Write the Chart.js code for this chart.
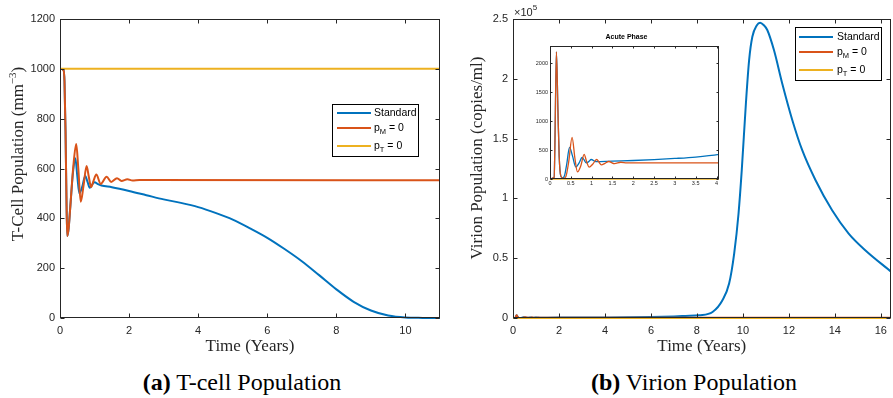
<!DOCTYPE html>
<html><head><meta charset="utf-8">
<script src="https://cdn.jsdelivr.net/npm/chart.js@4"></script>
<style>
html,body{margin:0;padding:0;background:#fff;width:893px;height:398px;overflow:hidden;position:relative}
canvas{position:absolute}
.cap{position:absolute;top:370px;font-family:"Liberation Serif",serif;font-size:24px;line-height:24px;color:#000;white-space:nowrap;text-align:center;width:300px}
</style></head><body>
<canvas id="cT" width="450" height="360" style="left:0;top:0"></canvas>
<canvas id="cV" width="443" height="360" style="left:450px;top:0"></canvas>
<canvas id="cI" width="196" height="165" style="left:526px;top:27px;background:#fff"></canvas>
<div class="cap" style="left:92px"><b>(a)</b> T-cell Population</div>
<div class="cap" style="left:544px"><b>(b)</b> Virion Population</div>
<script>
// ---------- data ----------
const seriesNames = ['Standard', 'p_M = 0', 'p_T = 0'];
const seriesColors = ['#0072BD', '#D95319', '#EDB120'];

// T-cell population (mm^-3) vs time (years)
const tcellTimeStd = [0,0.1,0.13,0.16,0.19,0.21,0.25,0.3,0.38,0.445,0.5,0.56,0.64,0.73,0.8,0.86,0.93,1.0,1.1,1.2,1.5,2,2.5,3,3.5,4,4.5,5,5.5,6,6.5,7,7.5,8,8.5,9,9.5,10,10.5,11];
const tcellStd     = [1000,995,950,750,450,329,360,450,590,641,570,500,525,570,545,523,535,545,537,532,525,510,493,476,462,445,422,395,360,322,277,228,172,115,65,30,10,2,0.5,0];
const tcellTimePM  = [0,0.1,0.13,0.16,0.19,0.21,0.25,0.3,0.38,0.47,0.53,0.6,0.68,0.77,0.83,0.9,0.97,1.05,1.18,1.35,1.48,1.65,1.78,1.95,2.1,2.3,11];
const tcellPM      = [1000,995,950,750,450,329,360,450,600,698,600,467,530,610,570,525,550,576,538,567,546,561,550,557,552,554,553];
const tcellTimePT  = [0,11];
const tcellPT      = [1000,1000];

// Virion population (copies/ml) vs time (years)
const virTimeStd = [0,0.1,0.12,0.154,0.19,0.22,0.26,0.3,0.35,0.4,0.47,0.54,0.62,0.7,0.77,0.82,0.87,0.93,0.99,1.1,1.5,2,2.5,3,3.5,4.06,5,6,7,7.5,8.1,8.68,9.11,9.4,9.62,9.81,9.95,10.13,10.27,10.41,10.6,10.75,10.9,11.06,11.35,11.71,12.15,12.58,13.16,13.88,14.6,15.32,16.46];
const virStd     = [0,30,700,2200,1200,400,50,20,60,250,547,400,209,280,372,330,279,300,337,300,310,320,335,355,380,425,550,800,1300,1700,2260,5000,14800,28800,53900,87400,123600,179400,215600,235100,244500,246900,245000,240800,224000,196100,165400,140300,115200,90100,70600,56700,38500];
const virTimePM  = [0,0.1,0.12,0.154,0.19,0.22,0.26,0.32,0.38,0.45,0.53,0.6,0.66,0.74,0.82,0.88,0.94,1.03,1.12,1.18,1.23,1.32,1.41,1.55,1.7,1.85,2,4.06,16.42];
const virPM      = [0,30,700,2200,1200,400,50,10,40,300,721,350,122,230,425,300,204,260,337,290,245,270,303,265,290,278,280,280,280];
const virTimePT  = [0,16.42];
const virPT      = [0,0];

// tick labels
const tcellXTicks = [0,2,4,6,8,10];
const tcellYTicks = [0,200,400,600,800,1000,1200];
const virXTicks   = [0,2,4,6,8,10,12,14,16];
const virYTicks   = [0,50000,100000,150000,200000,250000];
const insetXTicks = [0,0.5,1,1.5,2,2.5,3,3.5,4];
const insetYTicks = [0,500,1000,1500,2000];

// ---------- plugins ----------
const pts = (xs, ys) => xs.map((x, i) => ({x, y: ys[i]}));
const AX = '#262626';
const SANS = '"Liberation Sans", Arial, sans-serif';
const SERIF = '"Liberation Serif", "Times New Roman", serif';

const boxPlugin = {
  id: 'matBox',
  afterDatasetsDraw(chart, args, o) {
    const {ctx, chartArea: a, scales} = chart;
    ctx.save();
    ctx.strokeStyle = AX; ctx.lineWidth = 1;
    const L = Math.round(a.left) + 0.5, R = Math.round(a.right) - 0.5, T = Math.round(a.top) + 0.5, B = Math.round(a.bottom) - 0.5;
    ctx.strokeRect(L, T, R - L, B - T);
    const tl = o.tickLen;
    ctx.beginPath();
    scales.x.ticks.forEach(t => {
      const px = Math.round(scales.x.getPixelForValue(t.value)) + 0.5;
      ctx.moveTo(px, B); ctx.lineTo(px, B - tl);
      ctx.moveTo(px, T); ctx.lineTo(px, T + tl);
    });
    scales.y.ticks.forEach(t => {
      const py = Math.round(scales.y.getPixelForValue(t.value)) + 0.5;
      ctx.moveTo(L, py); ctx.lineTo(L + tl, py);
      ctx.moveTo(R, py); ctx.lineTo(R - tl, py);
    });
    ctx.stroke();
    ctx.restore();
  }
};

const legendPlugin = {
  id: 'matLegend',
  afterDraw(chart, args, o) {
    const ctx = chart.ctx;
    ctx.save();
    ctx.fillStyle = '#fff'; ctx.fillRect(o.x, o.y, o.w, o.h);
    ctx.strokeStyle = '#000'; ctx.lineWidth = 1;
    ctx.strokeRect(o.x + 0.5, o.y + 0.5, o.w - 1, o.h - 1);
    chart.data.datasets.forEach((ds, i) => {
      const y = o.y + o.rows[i];
      ctx.strokeStyle = ds.borderColor; ctx.lineWidth = 2;
      ctx.beginPath(); ctx.moveTo(o.x + o.l0, y); ctx.lineTo(o.x + o.l1, y); ctx.stroke();
      let x = o.x + o.tx;
      ctx.fillStyle = '#000'; ctx.textBaseline = 'middle'; ctx.textAlign = 'left';
      ds.label.split(/_(.)/).forEach((p, k) => {
        const sub = k % 2 === 1;
        ctx.font = sub ? o.subFont : o.font;
        ctx.fillText(p, x, sub ? y + 3.5 : y);
        x += ctx.measureText(p).width;
      });
    });
    ctx.restore();
  }
};

const textPlugin = {
  id: 'matText',
  afterDraw(chart, args, o) {
    const ctx = chart.ctx, a = chart.chartArea;
    o.items.forEach(it => {
      ctx.save();
      ctx.fillStyle = it.color || AX; ctx.textBaseline = 'middle';
      ctx.font = it.font;
      ctx.textAlign = it.align || 'left';
      let x, y;
      if (it.abs) { x = it.x; y = it.y; }
      else { x = (it.center ? (a.left + a.right) / 2 : a.left) + it.dx; y = a.top + it.dy; }
      ctx.translate(x, y);
      if (it.rot) ctx.rotate(it.rot);
      if (it.parts) {
        let total = 0;
        it.parts.forEach(p => { ctx.font = p[1] ? it.supFont : it.font; total += ctx.measureText(p[0]).width; });
        let cx = it.align === 'center' ? -total / 2 : 0;
        ctx.textAlign = 'left';
        it.parts.forEach(p => {
          ctx.font = p[1] ? it.supFont : it.font;
          ctx.fillText(p[0], cx, p[1] ? -it.supRise : 0);
          cx += ctx.measureText(p[0]).width;
        });
      } else {
        ctx.fillText(it.text, 0, 0);
      }
      ctx.restore();
    });
  }
};

function makeChart(id, c) {
  return new Chart(document.getElementById(id), {
    type: 'line',
    data: {
      datasets: c.series.map((s, i) => ({
        label: seriesNames[i], data: pts(s[0], s[1]),
        borderColor: seriesColors[i], backgroundColor: seriesColors[i],
        borderWidth: c.lw, pointRadius: 0, cubicInterpolationMode: 'monotone',
        fill: false, order: 3 - i, clip: c.clip
      }))
    },
    options: {
      responsive: false, animation: false, devicePixelRatio: 1,
      layout: {padding: c.pad},
      plugins: {
        legend: {display: false}, tooltip: {enabled: false}, title: {display: false},
        matBox: {tickLen: c.tickLen},
        matLegend: c.legend || false,
        matText: c.text || false
      },
      scales: {
        x: {
          type: 'linear', min: 0, max: c.xMax,
          grid: {display: false, drawTicks: false}, border: {display: false},
          afterBuildTicks: s => { s.ticks = c.xTicks.map(v => ({value: v})); },
          afterFit: s => { s.height = c.xH; },
          ticks: {font: {family: SANS, size: c.tickFont}, color: AX, padding: c.xTickPad, maxRotation: 0, autoSkip: false, callback: v => String(v)},
          title: {display: !!c.xTitle, text: c.xTitle, font: {family: SERIF, size: 17}, color: AX, padding: {top: 0, bottom: 3}}
        },
        y: {
          type: 'linear', min: 0, max: c.yMax,
          grid: {display: false, drawTicks: false}, border: {display: false},
          afterBuildTicks: s => { s.ticks = c.yTicks.map(v => ({value: v})); },
          afterFit: s => { s.width = c.yW; },
          ticks: {font: {family: SANS, size: c.tickFont}, color: AX, padding: c.yTickPad, autoSkip: false, callback: c.yFmt || (v => String(v))},
          title: {display: false}
        }
      }
    },
    plugins: [boxPlugin, legendPlugin, textPlugin]
  });
}

const legendFont = {font: '10.5px ' + SANS, subFont: '7.5px ' + SANS};

makeChart('cT', {
  series: [[tcellTimeStd, tcellStd], [tcellTimePM, tcellPM], [tcellTimePT, tcellPT]],
  lw: 2, tickLen: 4, tickFont: 11, clip: {left: 0, top: 0, right: 0, bottom: 2},
  pad: {top: 19, right: 10, left: 0, bottom: 0},
  xMax: 11, yMax: 1200, xTicks: tcellXTicks, yTicks: tcellYTicks,
  xH: 42, yW: 60, xTickPad: 6, yTickPad: 5,
  xTitle: 'Time (Years)',
  legend: Object.assign({x: 332, y: 104, w: 87, h: 53, rows: [9, 24, 42], l0: 5, l1: 39, tx: 42}, legendFont),
  text: {items: [{abs: true, x: 19, y: 154, rot: -Math.PI / 2, align: 'center', font: '17px ' + SERIF, supFont: '11px ' + SERIF, supRise: 6,
                  parts: [['T-Cell Population (mm', false], ['\u22123', true], [')', false]]}]}
});

makeChart('cV', {
  series: [[virTimeStd, virStd], [virTimePM, virPM], [virTimePT, virPT]],
  lw: 2, tickLen: 4, tickFont: 11, clip: {left: 0, top: 0, right: 0, bottom: 2},
  pad: {top: 19, right: 1, left: 0, bottom: 0},
  xMax: 16.42, yMax: 250000, xTicks: virXTicks, yTicks: virYTicks,
  xH: 42, yW: 63, xTickPad: 6, yTickPad: 5,
  yFmt: v => String(v / 100000),
  xTitle: 'Time (Years)',
  legend: Object.assign({x: 345, y: 27, w: 87, h: 54, rows: [10, 25, 43], l0: 4, l1: 38, tx: 42}, legendFont),
  text: {items: [
    {parts: [['\u00D710', false], ['5', true]], font: '11px ' + SANS, supFont: '8px ' + SANS, supRise: 5, dx: 1, dy: -6},
    {abs: true, x: 28, y: 158, rot: -Math.PI / 2, align: 'center', font: '17px ' + SERIF, text: 'Virion Population (copies/ml)'}
  ]}
});

makeChart('cI', {
  series: [[virTimeStd, virStd], [virTimePM, virPM], [virTimePT, virPT]],
  lw: 1.3, tickLen: 2, tickFont: 5.5, clip: {left: 0, top: 0, right: 0, bottom: 1},
  pad: {top: 19, right: 3, left: 0, bottom: 0},
  xMax: 4.06, yMax: 2300, xTicks: insetXTicks, yTicks: insetYTicks,
  xH: 13, yW: 24, xTickPad: 1.5, yTickPad: 2,
  text: {items: [{text: 'Acute Phase', color: '#000', font: 'bold 7px ' + SANS, align: 'center', center: true, dx: -8, dy: -9}]}
});
</script>
</body></html>
